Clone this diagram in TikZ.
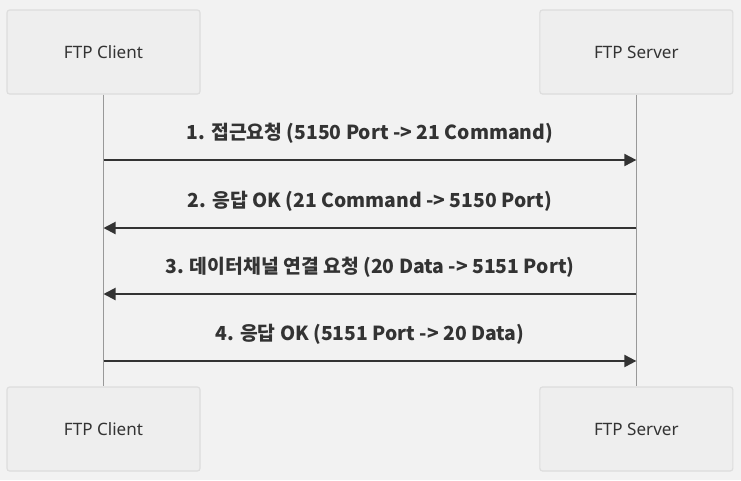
\documentclass[tikz,border=0pt]{standalone}
\usepackage{fontspec}
\setmainfont{Noto Sans}
\newfontfamily\krfont{Noto Sans CJK KR}
\usetikzlibrary{positioning,arrows.meta}
\definecolor{bgcol}{HTML}{F2F2F2}
\definecolor{boxfill}{HTML}{EEEEEE}
\definecolor{boxline}{HTML}{DDDDDD}
\definecolor{lifecol}{HTML}{999999}
\definecolor{inkcol}{HTML}{333333}
\tikzset{
actor/.style={rectangle, draw=boxline, fill=boxfill, line width=0.9pt, rounded corners=2pt,
  minimum width=144.75pt, minimum height=63pt, text depth=0pt, text=inkcol, font=\fontsize{12.8}{15}\selectfont},
life/.style={draw=lifecol, line width=0.75pt},
msg/.style={draw=inkcol, line width=1.5pt, -{Triangle[length=9pt, width=9pt]}},
msglabel/.style={text=inkcol, font=\krfont\bfseries\fontsize{14.5}{17}\selectfont}
}

\begin{document}
\begin{tikzpicture}[x=0.75pt, y=-0.75pt]
    \path[fill=bgcol] (0,0) rectangle (741,480);
    \useasboundingbox (0,0) rectangle (741,480);
    % Place nodes
    \node [actor] (client) at (103.5,52) {FTP Client};
    \node [actor, right=254pt of client] (server) {FTP Server};
    \node [actor] (clientb) at (103.5,429) {FTP Client};
    \node [actor, right=254pt of clientb] (serverb) {FTP Server};
    % Lifelines
    \path [life] (client) -- (clientb);
    \path [life] (server) -- (serverb);
    % Message ends on the lifelines
    \foreach \n/\y in {1/160, 2/228, 3/294, 4/361} {
        \coordinate (c\n) at (client |- 0,\y);
        \coordinate (s\n) at (server |- 0,\y);
    }
    % Draw edges
    \path [msg] (c1) -- node [msglabel, above=8pt] {1. 접근요청 (5150 Port -> 21 Command)} (s1);
    \path [msg] (s2) -- node [msglabel, above=8pt] {2. 응답 OK (21 Command -> 5150 Port)} (c2);
    \path [msg] (s3) -- node [msglabel, above=8pt] {3. 데이터채널 연결 요청 (20 Data -> 5151 Port)} (c3);
    \path [msg] (c4) -- node [msglabel, above=8pt] {4. 응답 OK (5151 Port -> 20 Data)} (s4);
\end{tikzpicture}
\end{document}
